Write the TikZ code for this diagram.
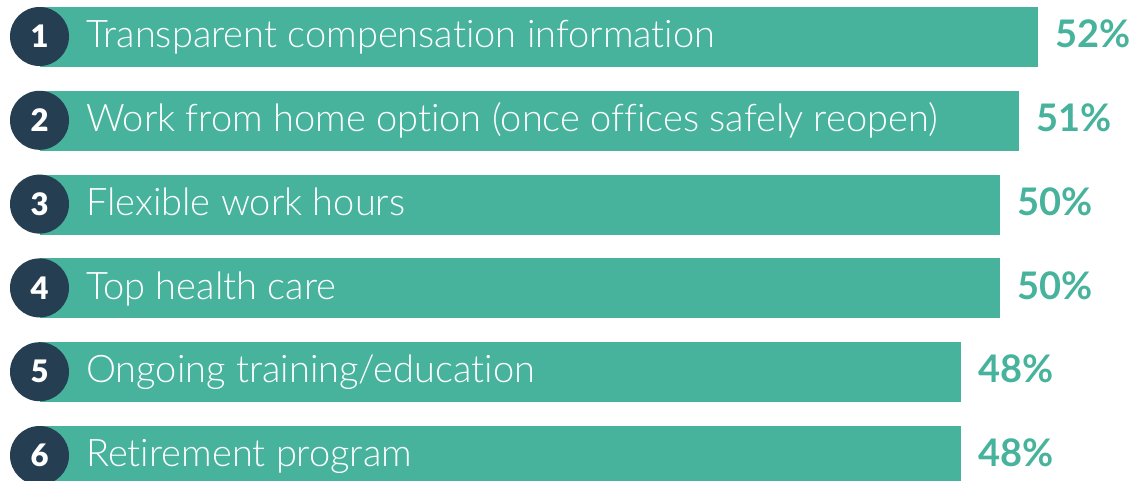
\documentclass[tikz,border=0pt]{standalone}
\usepackage{fontspec}
\setmainfont{Lato}
\newfontfamily\lightfont[Ligatures=NoCommon]{Lato Light}
\newfontfamily\heavyfont{Lato Black}
\definecolor{barcol}{RGB}{71,179,157}
\definecolor{navycol}{RGB}{38,62,82}
\tikzset{
  numcirc/.style={circle, fill=navycol, minimum size=59pt, inner sep=0pt, text=white, font=\heavyfont\fontsize{31}{31}\selectfont},
  lbl/.style={inner sep=0pt, text=white, font=\lightfont\fontsize{38}{40}\selectfont},
  pct/.style={inner sep=0pt, text=barcol, font=\fontsize{38}{40}\selectfont\bfseries}
}
\begin{document}
\begin{tikzpicture}[x=1pt,y=-1pt]
\useasboundingbox (0,0) rectangle (1136,480);
\clip (0,0) rectangle (1136,480);
\foreach \i/\r/\t/\p in {1/1038/{Transparent compensation information}/52\%,
  2/1019/{Work from home option (once offices safely reopen)}/51\%,
  3/1000/{Flexible work hours}/50\%,
  4/1000/{Top health care}/50\%,
  5/961/{Ongoing training/education}/48\%,
  6/961/{Retirement program}/48\%}{
  \pgfmathsetmacro\top{7+(\i-1)*83.8}
  \fill[barcol] (40,\top) rectangle (\r,\top+60);
  \node[numcirc] (c\i) at (39.5,\top+29.5) {\i};
  \node[lbl, anchor=base west] (l\i) at (86,\top+40.7) {\t};
  \node[pct, anchor=base west] (p\i) at (\r+17,\top+40.7) {\p};
}
\end{tikzpicture}
\end{document}
